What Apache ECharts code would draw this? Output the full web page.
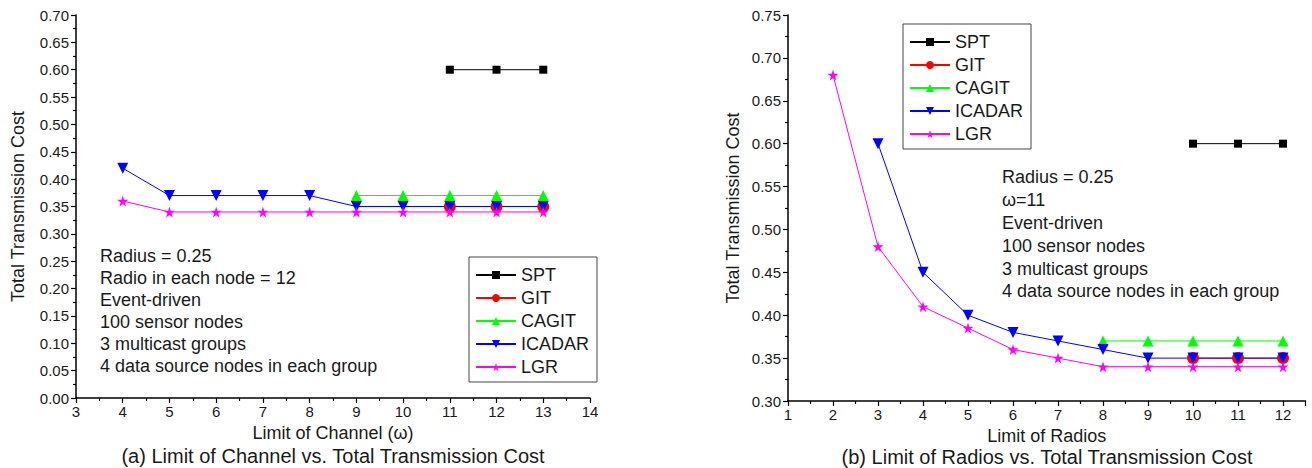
<!DOCTYPE html>
<html>
<head>
<meta charset="utf-8">
<script src="https://cdn.jsdelivr.net/npm/echarts@6/dist/echarts.min.js"></script>
<style>
html,body{margin:0;padding:0;background:#fff;}
#c{width:1312px;height:468px;}
</style>
</head>
<body>
<div id="c"></div>
<script>
// ---- Data: (a) Limit of Channel ----
const channelX   = [4, 5, 6, 7, 8, 9, 10, 11, 12, 13];
const chSPT      = [null, null, null, null, null, null, null, 0.60, 0.60, 0.60];
const chGIT      = [null, null, null, null, null, null, null, 0.35, 0.35, 0.35];
const chCAGIT    = [null, null, null, null, null, 0.37, 0.37, 0.37, 0.37, 0.37];
const chICADAR   = [0.42, 0.37, 0.37, 0.37, 0.37, 0.35, 0.35, 0.35, 0.35, 0.35];
const chLGR      = [0.36, 0.34, 0.34, 0.34, 0.34, 0.34, 0.34, 0.34, 0.34, 0.34];

// ---- Data: (b) Limit of Radios ----
const radioX     = [2, 3, 4, 5, 6, 7, 8, 9, 10, 11, 12];
const raSPT      = [null, null, null, null, null, null, null, null, 0.60, 0.60, 0.60];
const raGIT      = [null, null, null, null, null, null, null, null, 0.35, 0.35, 0.35];
const raCAGIT    = [null, null, null, null, null, null, 0.37, 0.37, 0.37, 0.37, 0.37];
const raICADAR   = [null, 0.60, 0.45, 0.40, 0.38, 0.37, 0.36, 0.35, 0.35, 0.35, 0.35];
const raLGR      = [0.68, 0.48, 0.41, 0.385, 0.36, 0.35, 0.34, 0.34, 0.34, 0.34, 0.34];

const seriesNames = ['SPT', 'GIT', 'CAGIT', 'ICADAR', 'LGR'];
const leftTicksY  = [0, 0.70, 0.05];
const rightTicksY = [0.30, 0.75, 0.05];

const annotationA = ['Radius = 0.25', 'Radio in each node = 12', 'Event-driven', '100 sensor nodes', '3 multicast groups', '4 data source nodes in each group'];
const annotationB = ['Radius = 0.25', '\u03c9=11', 'Event-driven', '100 sensor nodes', '3 multicast groups', '4 data source nodes in each group'];

// ---- styling ----
const FONT = '"Liberation Sans", Arial, sans-serif';
const TXT = '#1a1a1a';
const STAR = 'path://M50,0 L61,35 L98,35 L68,57 L79,91 L50,70 L21,91 L32,57 L2,35 L39,35 Z';
const styles = {
  SPT:    {color: '#000000', symbol: 'rect', size: 8, rotate: 0},
  GIT:    {color: '#ff0000', symbol: 'circle', size: 12, rotate: 0},
  CAGIT:  {color: '#00ff00', symbol: 'triangle', size: 11, rotate: 0},
  ICADAR: {color: '#0000ff', symbol: 'triangle', size: 11, rotate: 180},
  LGR:    {color: '#ff00ff', symbol: STAR, size: 11, rotate: 0}
};

function pairs(xs, ys) {
  const out = [];
  xs.forEach((x, i) => { if (ys[i] !== null) out.push([x, ys[i]]); });
  return out;
}
function mkSeries(name, xs, ys, idx) {
  const s = styles[name];
  return {
    name: name, type: 'line', xAxisIndex: idx, yAxisIndex: idx,
    data: pairs(xs, ys),
    symbol: s.symbol, symbolSize: s.size, symbolRotate: s.rotate,
    showAllSymbol: true,
    lineStyle: {color: s.color, width: 1},
    itemStyle: {color: s.color, borderWidth: 0},
    emphasis: {disabled: true},
    animation: false
  };
}

const leftSets  = [chSPT, chGIT, chCAGIT, chICADAR, chLGR];
const rightSets = [raSPT, raGIT, raCAGIT, raICADAR, raLGR];
const series = [];
seriesNames.forEach((n, i) => series.push(mkSeries(n, channelX, leftSets[i], 0)));
seriesNames.forEach((n, i) => series.push(mkSeries(n, radioX, rightSets[i], 1)));

function xAxis(idx, min, max, name, nameGap, showMax) {
  return {
    type: 'value', gridIndex: idx, min: min, max: max, interval: 1,
    name: name, nameLocation: 'middle', nameGap: nameGap,
    nameTextStyle: {fontFamily: FONT, fontSize: 18, color: TXT},
    axisLine: {show: true, onZero: false, lineStyle: {color: '#000', width: 1.5}},
    axisTick: {show: true, length: 5, inside: false, lineStyle: {color: '#000', width: 1.2}},
    minorTick: {show: true, splitNumber: 2, length: 3, lineStyle: {color: '#000', width: 1.2}},
    axisLabel: {fontFamily: FONT, fontSize: 15, color: TXT, margin: 6, showMaxLabel: showMax},
    splitLine: {show: false}
  };
}
function yAxis(idx, t, name, nameGap) {
  return {
    type: 'value', gridIndex: idx, min: t[0], max: t[1], interval: t[2],
    name: name, nameLocation: 'middle', nameGap: nameGap,
    nameTextStyle: {fontFamily: FONT, fontSize: 18, color: TXT},
    axisLine: {show: true, onZero: false, lineStyle: {color: '#000', width: 1.5}},
    axisTick: {show: true, length: 5, lineStyle: {color: '#000', width: 1.2}},
    minorTick: {show: true, splitNumber: 2, length: 3, lineStyle: {color: '#000', width: 1.2}},
    axisLabel: {fontFamily: FONT, fontSize: 15, color: TXT, margin: 7, formatter: v => v.toFixed(2)},
    splitLine: {show: false}
  };
}
function legend(left, top) {
  return {
    show: true, orient: 'vertical', left: left, top: top,
    data: seriesNames,
    itemWidth: 40, itemHeight: 10, itemGap: 5,
    padding: [9, 8, 6, 6],
    borderColor: '#444', borderWidth: 1,
    textStyle: {fontFamily: FONT, fontSize: 18, color: TXT},
    selectedMode: false
  };
}
function textBlock(lines, x, y, lh) {
  return {
    type: 'text', x: x, y: y, silent: true,
    style: {text: lines.join('\n'), fontFamily: FONT, fontSize: 18, fill: TXT, lineHeight: lh, verticalAlign: 'top', align: 'left'}
  };
}
function caption(text, x, y) {
  return {
    type: 'text', x: x, y: y, silent: true,
    style: {text: text, fontFamily: FONT, fontSize: 20, fill: TXT, align: 'center', verticalAlign: 'middle'}
  };
}

const chart = echarts.init(document.getElementById('c'), null, {renderer: 'svg', width: 1312, height: 468});
chart.setOption({
  backgroundColor: '#fff',
  animation: false,
  grid: [
    {left: 76, top: 15, width: 514, height: 383},
    {left: 788, top: 15, width: 517.5, height: 386}
  ],
  xAxis: [
    xAxis(0, 3, 14, 'Limit of Channel (\u03c9)', 23, true),
    xAxis(1, 1, 12.5, 'Limit of Radios', 20, false)
  ],
  yAxis: [
    yAxis(0, leftTicksY, 'Total Transmission Cost', 49),
    yAxis(1, rightTicksY, 'Total Transmission Cost', 46)
  ],
  legend: [legend(469, 257), legend(903, 24)],
  series: series,
  graphic: [
    textBlock(annotationA, 100, 245, 22),
    textBlock(annotationB, 1002, 166, 22.8),
    caption('(a) Limit of Channel vs. Total Transmission Cost', 333, 456),
    caption('(b) Limit of Radios vs. Total Transmission Cost', 1047, 457)
  ]
});
</script>
</body>
</html>
